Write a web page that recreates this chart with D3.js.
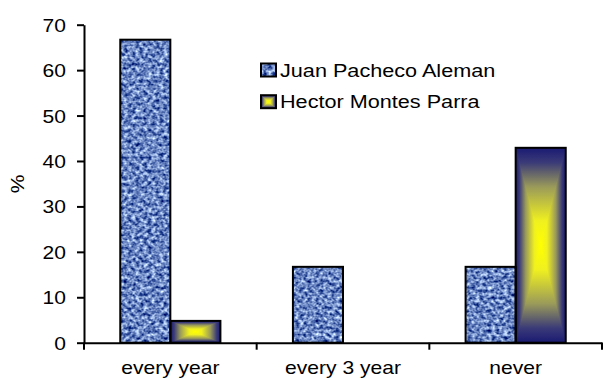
<!DOCTYPE html>
<html>
<head>
<meta charset="utf-8">
<script src="https://cdn.jsdelivr.net/npm/d3@7"></script>
<style>
  html, body { margin: 0; padding: 0; background: #fff; }
  svg { display: block; }
  text { font-family: "Liberation Sans", Arial, sans-serif; fill: #000; }
</style>
</head>
<body>
<svg id="chart" width="614" height="378"></svg>
<script>
// ---- data ----
const categories = ["every year", "every 3 year", "never"];
const seriesNames = ["Juan Pacheco Aleman", "Hector Montes Parra"];
const juanValues = [66.7, 16.7, 16.7];
const hectorValues = [4.8, 0, 42.9];
const yTicks = [0, 10, 20, 30, 40, 50, 60, 70];
const yLabel = "%";

// ---- layout ----
const plot = { left: 84, right: 602, top: 24.7, bottom: 342.7 };
const stretch = 1.17;   // wide text look
const fontSize = 18;
const navy = "#1a1a73", yellow = "#ffff00";

const svg = d3.select("#chart");
const defs = svg.append("defs");

// denim-like blue texture
const tex = defs.append("filter").attr("id", "denim")
  .attr("color-interpolation-filters", "sRGB")
  .attr("x", 0).attr("y", 0).attr("width", 1).attr("height", 1);
tex.append("feTurbulence").attr("type", "fractalNoise")
  .attr("baseFrequency", "0.25 0.3").attr("numOctaves", 2).attr("seed", 7).attr("result", "n");
tex.append("feColorMatrix").attr("in", "n").attr("type", "matrix")
  .attr("values", "1.47 0 0 0 -0.323  1.422 0 0 0 -0.192  1.029 0 0 0 0.24  0 0 0 0 1")
  .attr("result", "c");
tex.append("feComposite").attr("in", "c").attr("in2", "SourceGraphic").attr("operator", "in");

// rectangular (from centre) gradient pieces
const ramp = [[0, navy], [0.15, "#3a3a78"], [0.4, "#9a9a5a"], [0.75, "#f0f020"], [1, yellow]];
function lin(id, x1, y1, x2, y2, stops) {
  const g = defs.append("linearGradient").attr("id", id)
    .attr("x1", x1).attr("y1", y1).attr("x2", x2).attr("y2", y2);
  stops.forEach(([o, c]) => g.append("stop").attr("offset", o).attr("stop-color", c));
}
lin("gV", 0, 0, 0, 1, ramp.map(([o, c]) => [o / 2, c]).concat(ramp.slice().reverse().map(([o, c]) => [1 - o / 2, c])));
lin("gL", 0, 0, 1, 0, ramp);
lin("gR", 1, 0, 0, 0, ramp);

// ---- scales ----
const x = d3.scaleBand().domain(categories).range([plot.left, plot.right]).padding(0);
const bw = x.bandwidth();
const x1 = d3.scaleBand().domain(seriesNames).range([bw * 0.21, bw * 0.79]).padding(0);
const y = d3.scaleLinear().domain([0, 70]).range([plot.bottom, plot.top]);

function sText(sel, tx, ty, anchor, str) {
  return sel.append("text")
    .attr("transform", `translate(${tx},${ty}) scale(${stretch},1)`)
    .attr("text-anchor", anchor)
    .style("font-size", fontSize + "px")
    .text(str);
}

function texturedRect(g, rx, ry, rw, rh) {
  g.append("rect").attr("x", rx).attr("y", ry).attr("width", rw).attr("height", rh)
    .attr("fill", "#6f8fcb").attr("filter", "url(#denim)");
}
function gradientRect(g, rx, ry, rw, rh) {
  const cx = rx + rw / 2, cy = ry + rh / 2;
  g.append("rect").attr("x", rx).attr("y", ry).attr("width", rw).attr("height", rh)
    .attr("fill", "url(#gV)");
  g.append("path").attr("d", `M${rx},${ry}L${cx},${cy}L${rx},${ry + rh}Z`).attr("fill", "url(#gL)");
  g.append("path").attr("d", `M${rx + rw},${ry}L${cx},${cy}L${rx + rw},${ry + rh}Z`).attr("fill", "url(#gR)");
}

// ---- bars ----
const bars = svg.append("g");
categories.forEach((c, i) => {
  const xb = x(c) + x1(seriesNames[0]);
  texturedRect(bars, xb, y(juanValues[i]), x1.bandwidth(), y(0) - y(juanValues[i]));
});
categories.forEach((c, i) => {
  if (hectorValues[i] <= 0) return;
  const xb = x(c) + x1(seriesNames[1]);
  gradientRect(bars, xb, y(hectorValues[i]), x1.bandwidth(), y(0) - y(hectorValues[i]));
});
// outlines
categories.forEach((c, i) => {
  [juanValues[i], hectorValues[i]].forEach((v, s) => {
    if (v <= 0) return;
    bars.append("rect")
      .attr("x", x(c) + x1(seriesNames[s])).attr("y", y(v))
      .attr("width", x1.bandwidth()).attr("height", y(0) - y(v))
      .attr("fill", "none").attr("stroke", "#000").attr("stroke-width", 2);
  });
});

// ---- y axis ----
const yAxis = svg.append("g").attr("transform", `translate(${plot.left},0)`)
  .call(d3.axisLeft(y).tickValues(yTicks).tickSize(7).tickSizeOuter(0));
yAxis.selectAll("path, line").attr("stroke", "#000").attr("stroke-width", 2);
yAxis.selectAll("text").remove();
yAxis.selectAll(".tick").each(function (d) {
  sText(d3.select(this), -18, 0, "end", d).attr("dy", "0.36em");
});

// ---- x axis ----
const xAxis = svg.append("g").attr("transform", `translate(0,${plot.bottom})`)
  .call(d3.axisBottom(x).tickSize(0).tickSizeOuter(0));
xAxis.select(".domain").attr("stroke", "#000").attr("stroke-width", 2);
xAxis.selectAll("text").remove();
xAxis.selectAll(".tick").each(function (d) {
  sText(d3.select(this), 0, 30.8, "middle", d);
});
const bounds = categories.map(c => x(c)).concat([x(categories[categories.length - 1]) + bw]);
xAxis.selectAll("line.bound").data(bounds).join("line").attr("class", "bound")
  .attr("x1", d => d).attr("x2", d => d).attr("y1", 0).attr("y2", 7)
  .attr("stroke", "#000").attr("stroke-width", 2);

// ---- y label ----
svg.append("text")
  .attr("transform", `translate(24,184) rotate(-90) scale(${stretch},1)`)
  .attr("text-anchor", "middle")
  .style("font-size", fontSize + "px")
  .text(yLabel);

// ---- legend ----
const legend = svg.append("g");
const legendRows = [70, 101.7];
seriesNames.forEach((name, i) => {
  const ly = legendRows[i];
  const mx = 261, my = ly - 6.5, mw = 15, mh = 13;
  if (i === 0) texturedRect(legend, mx, my, mw, mh);
  else gradientRect(legend, mx, my, mw, mh);
  legend.append("rect").attr("x", mx).attr("y", my).attr("width", mw).attr("height", mh)
    .attr("fill", "none").attr("stroke", "#000").attr("stroke-width", 2);
  sText(legend, 280, ly, "start", name).attr("dy", "0.36em").style("font-size", "18.5px");
});
</script>
</body>
</html>
